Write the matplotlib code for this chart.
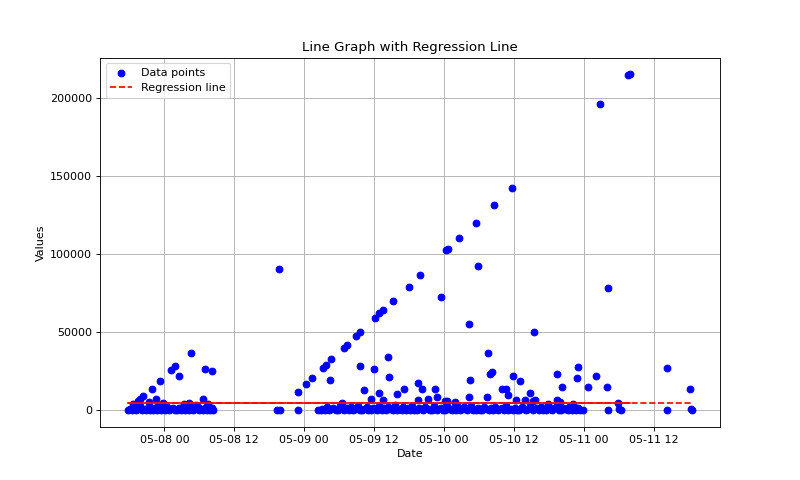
import matplotlib
matplotlib.use("Agg")
import matplotlib.pyplot as plt
import matplotlib.dates as mdates
import pandas as pd

base_time = "2024-05-08 00:00"

# hours offset from base_time, and values
left_base_hours = [-6.2, -5.9, -5.5, -5.2, -4.8, -4.5, -4.1, -3.8, -3.4, -3.1,
                   -2.7, -2.4, -2.0, -1.7, -1.3, -1.0, -0.6, -0.3, 0.1, 0.4,
                   0.8, 1.1, 1.5, 1.8, 2.2, 2.5, 2.9, 3.2, 3.6, 3.9,
                   4.3, 4.6, 5.0, 5.3, 5.7, 6.0, 6.4, 6.7, 7.1, 7.4,
                   7.8, 8.1, 8.4]
left_base_values = [0, 600, 200, 1500, 0, 900, 2500, 300, 1200, 0,
                    2000, 500, 0, 1600, 300, 2600, 0, 1000, 200, 2200,
                    0, 700, 1800, 100, 0, 1300, 400, 2400, 0, 900,
                    200, 1700, 0, 600, 2000, 100, 1100, 0, 2300, 400,
                    0, 1400, 200]

left_peak_hours = [-5.3, -4.6, -4.1, -3.6, -2.7, -2.1, -1.5, -0.7, -0.3, 1.2,
                   1.9, 2.6, 3.4, 4.5, 4.3, 5.5, 6.7, 6.9, 8.2, 7.5]
left_peak_values = [3800, 5800, 7500, 9000, 5100, 13500, 7000, 18800, 4500, 25600,
                    28200, 21800, 3800, 37000, 4700, 3200, 7500, 26300, 25200, 3800]

mid_base_hours = [26.4, 26.8, 27.1, 27.5, 27.9, 28.3, 28.6, 29.0, 29.4, 29.8,
                  30.2, 30.5, 30.9, 31.3, 31.7, 32.0, 32.4, 32.8, 33.2, 33.5,
                  33.9, 34.3, 34.7, 35.0, 35.4, 35.8, 36.2, 36.5, 36.9, 37.3,
                  37.7, 38.0, 38.4, 38.8, 39.2, 39.5, 39.9, 40.3, 40.7, 41.0,
                  41.4, 41.8, 42.2, 42.5, 42.9, 43.3, 43.7, 44.0, 44.4, 44.8,
                  45.2, 45.5, 45.9, 46.3, 46.7, 47.0, 47.4, 47.8, 48.2, 48.5,
                  48.9, 49.3, 49.7, 50.0, 50.4, 50.8, 51.2, 51.5, 51.9, 52.3,
                  52.7, 53.0, 53.4, 53.8, 54.2, 54.5, 54.9, 55.3, 55.7, 56.0,
                  56.4, 56.8, 57.2, 57.5, 57.9, 58.3, 58.7, 59.0, 59.4, 59.8,
                  60.2, 60.5, 60.9, 61.3, 61.7, 62.0, 62.4, 62.8, 63.2, 63.5,
                  63.9, 64.3, 64.7, 65.0, 65.4, 65.8, 66.2, 66.5, 66.9, 67.3,
                  67.7, 68.0, 68.4, 68.8, 69.2, 69.5, 69.9, 70.3, 70.7, 71.0,
                  71.4, 71.8]
mid_base_values = [300, 0, 1200, 500, 2100, 0, 800, 1600, 200, 0,
                   2500, 700, 0, 1400, 300, 1900, 0, 600, 2800, 100,
                   0, 1100, 2300, 400, 0, 1700, 900, 0, 2600, 300,
                   1300, 0, 2000, 600, 0, 3200, 200, 1000, 0, 2400,
                   500, 1500, 0, 2900, 300, 0, 1800, 700, 0, 2200,
                   1200, 0, 400, 3000, 0, 900, 1600, 200, 0, 2500,
                   800, 0, 1400, 300, 2100, 0, 600, 1900, 0, 1100,
                   2700, 200, 0, 1500, 500, 0, 2300, 900, 0, 1300,
                   300, 2000, 0, 700, 1700, 0, 2600, 400, 1000, 0,
                   1800, 200, 0, 2400, 600, 0, 1200, 3100, 0, 800,
                   1500, 0, 2200, 400, 0, 1900, 700, 0, 1300, 2500,
                   100, 0, 1600, 800, 0, 2000, 300, 1100, 0, 1400,
                   500, 0]

mid_peak_hours = [19.4, 19.8, 19.6, 22.9, 22.9, 24.3, 25.4, 27.3, 27.8, 28.6,
                  28.5, 30.9, 31.4, 32.9, 33.6, 33.6, 34.3, 36.2, 36.9, 37.6,
                  35.9, 38.3, 38.5, 36.9, 37.6, 35.5, 30.5, 39.2, 39.9, 41.2,
                  41.9, 43.6, 44.2, 43.9, 46.5, 46.7, 45.3, 43.6, 47.4, 48.3,
                  48.7, 48.5, 50.6, 52.2, 52.5, 52.3, 53.4, 53.9, 55.3, 55.6,
                  55.9, 56.2, 56.5, 58.0, 58.7, 59.0, 59.6, 59.9, 61.0, 62.7,
                  63.5, 63.6, 65.8, 67.4, 68.3, 70.1, 70.9, 70.8, 72.7, 74.1,
                  74.7, 76.0, 76.1, 76.2, 77.8, 78.0, 78.3, 79.6, 79.9, 48.2,
                  49.9, 60.4, 61.9, 63.3, 67.3, 67.9]
mid_peak_values = [0, 300, 90400, 0, 11800, 16600, 20700, 27100, 28800, 32700,
                   19200, 40200, 42100, 47800, 50000, 28300, 12800, 59300, 62000, 64100,
                   26600, 34000, 21200, 11000, 6900, 7500, 5000, 70000, 10700, 13700,
                   79200, 17300, 13500, 86400, 13900, 8700, 7500, 6400, 72400, 102600,
                   103200, 5800, 110400, 55100, 19200, 8500, 120000, 92000, 8500, 37000,
                   23300, 24700, 131000, 13900, 14000, 9600, 142300, 21800, 18600, 11400,
                   50000, 6900, 4300, 23300, 14700, 4300, 27500, 20800, 15000, 21900,
                   196000, 15100, 78200, 0, 4900, 1000, 0, 214500, 214800, 5800,
                   5300, 6400, 6400, 6000, 6400, 5500]

tail_hours = [86.3, 86.3, 90.2, 90.4, 90.5]
tail_values = [26900, 0, 13500, 600, 0]

reg_level = 4900          # regression line height (flat)
reg_solid_end_hour = 79.9  # dense part of regression line ends here

hours = left_base_hours + left_peak_hours + mid_base_hours + mid_peak_hours + tail_hours
values = left_base_values + left_peak_values + mid_base_values + mid_peak_values + tail_values

t0 = pd.Timestamp(base_time)
dates = pd.to_datetime([t0 + pd.Timedelta(hours=h) for h in hours])
order = sorted(range(len(hours)), key=lambda i: hours[i])
d_sorted = [dates[i] for i in order]

fig, ax = plt.subplots(figsize=(10, 6), dpi=80)
ax.scatter(dates, values, color="blue", label="Data points", zorder=2)

solid_x = [d for d in d_sorted if d <= t0 + pd.Timedelta(hours=reg_solid_end_hour)]
ax.plot(solid_x, [reg_level] * len(solid_x), color="red", linestyle="-", zorder=3)
ax.plot(d_sorted, [reg_level] * len(d_sorted), color="red", linestyle="--",
        label="Regression line", zorder=3)

ax.set_title("Line Graph with Regression Line")
ax.set_xlabel("Date")
ax.set_ylabel("Values")
ax.xaxis.set_major_locator(mdates.HourLocator(byhour=[0, 12]))
ax.xaxis.set_major_formatter(mdates.DateFormatter("%m-%d %H"))
ax.grid(True)
ax.legend(loc="upper left")

fig.savefig("out.png", dpi=80)
